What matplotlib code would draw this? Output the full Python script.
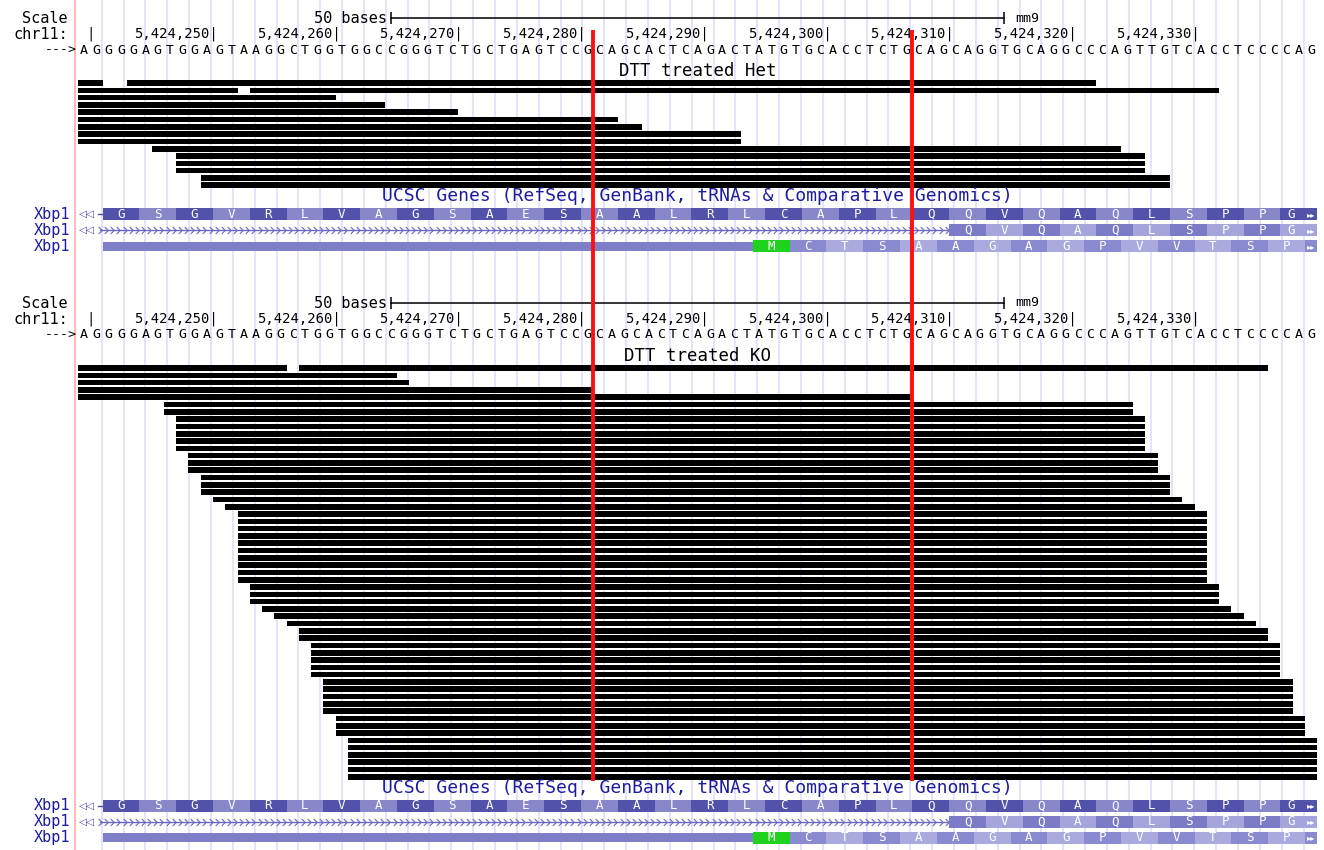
import numpy as np
import matplotlib.pyplot as plt
from matplotlib.path import Path
from matplotlib.transforms import blended_transform_factory

plt.rcParams['font.family'] = ['DejaVu Sans Mono', 'DejaVu Sans']

# window chr11:5,424,240-5,424,340 (mm9), 0-based start
VIEW_START = 5424239
chrom = 'chr11'
genome = 'mm9'
sequence = 'AGGGGAGTGGAGTAAGGCTGGTGGCCGGGTCTGCTGAGTCCGCAGCACTCAGACTATGTGCACCTCTGCAGCAGGTGCAGGCCCAGTTGTCACCTCCCCAG'
ruler_ticks = [5424240, 5424250, 5424260, 5424270, 5424280, 5424290, 5424300, 5424310, 5424320, 5424330]
scale_bases = 50

# reads, offsets (bp) from VIEW_START, one per row
het_starts = [0, 0, 0, 0, 0, 0, 0, 0, 0, 6, 8, 8, 8, 10, 10]
het_ends = [83, 93, 21, 25, 31, 44, 46, 54, 54, 85, 87, 87, 87, 89, 89]
het_gap_rows = [0, 1]
het_gap_starts = [2, 13]
het_gap_ends = [4, 14]

# KO reads: start, end, number of rows stacked with that start/end
ko_starts = [0, 0, 0, 0, 0, 7, 8, 9, 10, 11, 12, 13, 14, 15, 16, 17, 18, 19, 20, 21, 22]
ko_ends = [97, 26, 27, 42, 68, 86, 87, 88, 89, 90, 91, 92, 93, 94, 95, 96, 97, 98, 99, 100, 101]
ko_counts = [1, 1, 1, 1, 1, 2, 5, 3, 3, 1, 1, 10, 3, 1, 1, 1, 2, 5, 5, 3, 6]
ko_gap_rows = [0]
ko_gap_starts = [17]
ko_gap_ends = [18]

# Xbp1 26-nt intron boundaries (red lines)
splice_sites = [42, 68]

gene_name = 'Xbp1'
tx1_cds_start = 2
tx1_aa = 'GSGVRLVAGSAESAALRLCAPLQQVQAQLSPPG'
tx2_exon_start = 71
tx2_aa = 'QVQAQLSPPG'
tx3_utr_start = 2
tx3_cds_start = 55
tx3_aa = 'MCTSAAGAGPVVTSP'
n_bases = len(sequence)

# ---- figure: one axes, x in genome coords, y in pixel rows
W, H = 1324, 850
PXB = 12.27      # pixels per base
LEFT = 78        # pixel where the window starts
fig = plt.figure(figsize=(W / 100, H / 100), dpi=100)
ax = fig.add_axes([0, 0, 1, 1])
ax.set_xlim(VIEW_START - LEFT / PXB, VIEW_START + (W - LEFT) / PXB)
ax.set_ylim(H, 0)
ax.axis('off')
lab = blended_transform_factory(ax.transAxes, ax.transData)

BLUE = '#1c1c9c'
center = VIEW_START + n_bases / 2

# guide lines
grid_x = VIEW_START + 1.93 + 1.781 * np.arange(56)
ax.vlines(grid_x, 0, H, color='#e0e0fb', lw=1.3, zorder=0)
ax.axvline(VIEW_START - 0.25, color='#ffb0b0', lw=1.3, zorder=0)


def read_rows(starts, ends, counts=None):
    if counts is None:
        counts = [1] * len(starts)
    rows = []
    for s, e, c in zip(starts, ends, counts):
        rows += [(s, e)] * c
    return rows


def draw_panel(top, title, rows, gap_rows, gap_starts, gap_ends):
    fs = 10
    # scale bar
    x1, x2 = center - scale_bases / 2, center + scale_bases / 2
    ax.plot([x1, x2], [top, top], color='black', lw=1.1)
    ax.vlines([x1, x2], top - 6, top + 6, color='black', lw=1.1)
    ax.text(68 / W, top, 'Scale', transform=lab, ha='right', va='center', fontsize=11)
    ax.text(x1 - 0.3, top, f'{scale_bases} bases', ha='right', va='center', fontsize=11)
    ax.text(x2 + 0.9, top, genome, ha='left', va='center', fontsize=9.5)

    # ruler
    yr = top + 16
    ax.text(68 / W, yr, chrom + ':', transform=lab, ha='right', va='center', fontsize=11)
    for t in ruler_ticks:
        s = '|' if t == ruler_ticks[0] else f'{t:,}|'
        ax.text(t + 0.4, yr, s, ha='right', va='center', fontsize=fs)

    # sequence
    ys = top + 32
    ax.text(77 / W, ys, '--->', transform=lab, ha='right', va='center', fontsize=9.5)
    for i, b in enumerate(sequence):
        ax.text(VIEW_START + i + 0.5, ys, b, ha='center', va='center', fontsize=9.5)

    ax.text(center, top + 53, title, ha='center', va='center', fontsize=12.5)

    # reads
    y0 = top + 65
    pitch = 7.3
    for k, (s, e) in enumerate(rows):
        blocks = [(s, e)]
        if k in gap_rows:
            j = gap_rows.index(k)
            blocks = [(s, gap_starts[j]), (gap_ends[j], e)]
        for bs, be in blocks:
            ax.barh(y0 + k * pitch, be - bs, left=VIEW_START + bs, height=5.6,
                    color='black', zorder=2)
    yl = y0 + (len(rows) - 1) * pitch + 11
    ax.text(center, yl, 'UCSC Genes (RefSeq, GenBank, tRNAs & Comparative Genomics)',
            ha='center', va='center', fontsize=13, color=BLUE)

    # gene track
    g1, g2, g3 = yl + 18, yl + 34, yl + 50
    for g in (g1, g2, g3):
        ax.text(70 / W, g, gene_name, transform=lab, ha='right', va='center',
                fontsize=11, color=BLUE)
    for g in (g1, g2):
        ax.text(VIEW_START + 0.1, g, '◁◁', ha='left', va='center', fontsize=7.5,
                color='#4a4aa8', family='DejaVu Sans')

    def codons(y, start, aa, dark, light, first_dark=True, tail=True):
        xs = VIEW_START + start + 3 * np.arange(len(aa))
        cols = [dark if (i % 2 == 0) == first_dark else light for i in range(len(aa))]
        ax.barh(y, 3, left=xs, height=12.5, color=cols, zorder=2)
        for i, (x, a) in enumerate(zip(xs, aa)):
            if a == 'M':
                ax.barh(y, 3, left=x, height=12.5, color='#1ed21e', zorder=2)
            last = tail and i == len(aa) - 1
            ax.text(x + (0.9 if last else 1.5), y, a, ha='center', va='center',
                    fontsize=9, color='white', zorder=3)
            if last:
                ax.text(x + 2.5, y, '▸▸', ha='center', va='center', fontsize=6,
                        color='white', zorder=3, family='DejaVu Sans')
        return xs[-1] + 3

    # transcript 1: coding through the window
    ax.plot([VIEW_START + 1.6, VIEW_START + tx1_cds_start], [g1, g1], color='#4a4aa8', lw=1)
    codons(g1, tx1_cds_start, tx1_aa, '#5252aa', '#8787ca')

    # transcript 2: intron line then exon
    ix = VIEW_START + np.arange(1.8, tx2_exon_start, 0.5)
    ax.plot([ix[0], VIEW_START + tx2_exon_start], [g2, g2], color='#6a6abf', lw=1, zorder=1)
    chev = Path([(-0.4, 0.8), (0.4, 0), (-0.4, -0.8)], [Path.MOVETO, Path.LINETO, Path.LINETO])
    ax.plot(ix, np.full(len(ix), g2), ls='none', marker=chev, ms=5, mfc='none',
            mec='#6a6abf', mew=0.8, zorder=1)
    codons(g2, tx2_exon_start, tx2_aa, '#7b7bc6', '#a5a5dc')

    # transcript 3: UTR then ATG-start frame
    ax.barh(g3, tx3_cds_start - tx3_utr_start, left=VIEW_START + tx3_utr_start,
            height=9, color='#7e7ec9', zorder=2)
    end = codons(g3, tx3_cds_start, tx3_aa, '#8a8ad0', '#aaaadf', first_dark=False, tail=False)
    rest = VIEW_START + n_bases - end
    ax.barh(g3, rest, left=end, height=12.5, color='#8a8ad0', zorder=2)
    ax.text(end + rest / 2, g3, '▸▸', ha='center', va='center', fontsize=6,
            color='white', zorder=3, family='DejaVu Sans')


draw_panel(18, 'DTT treated Het', read_rows(het_starts, het_ends),
           het_gap_rows, het_gap_starts, het_gap_ends)
draw_panel(303, 'DTT treated KO', read_rows(ko_starts, ko_ends, ko_counts),
           ko_gap_rows, ko_gap_starts, ko_gap_ends)

# splice-site markers across both panels
ax.vlines([VIEW_START + s for s in splice_sites], 30, 781, color='#ff1010', lw=2.8, zorder=5)

fig.savefig('out.png', dpi=100)
